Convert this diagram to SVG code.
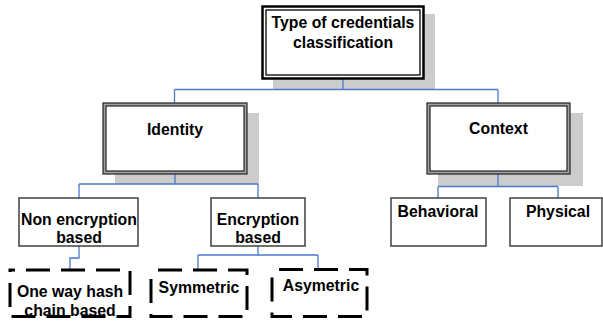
<svg xmlns="http://www.w3.org/2000/svg" width="603" height="324" viewBox="0 0 603 324">
  <style>
    text { font-family: "Liberation Sans", Arial, sans-serif; font-weight: bold; font-size: 15.8px; fill: #000; text-anchor: middle; }
    .shadow { fill: #cccccc; }
    .plain { fill: #fff; stroke: #333; stroke-width: 1.4; }
    .dashed { fill: #fff; stroke: #000; stroke-width: 3; stroke-dasharray: 24 11; stroke-dashoffset: 28; }
    .frame-out { fill: #a3a3a3; stroke: #222; stroke-width: 1.2; }
    .frame-in { fill: #fff; stroke: #222; stroke-width: 1.2; }
    .conn { fill: none; stroke: #4a7acb; stroke-width: 1.3; }
  </style>

  <!-- drop shadows behind the framed boxes -->
  <rect class="shadow" x="273" y="14" width="162" height="76"/>
  <rect class="shadow" x="115" y="113" width="144" height="71"/>
  <rect class="shadow" x="438" y="113" width="145" height="73"/>

  <!-- connectors -->
  <g id="connectors">
    <path class="conn" d="M343,79 V89.5 M174.5,89.5 H498 M174.5,89.5 V103 M498,89.5 V103"/>
    <path class="conn" d="M175,174 V184 M79,184 H258 M79,184 V198 M258,184 V198"/>
    <path class="conn" d="M498,174 V186.5 M438,186.5 H558 M438,186.5 V198 M558,186.5 V198"/>
    <path class="conn" d="M79,246 V258 H70 V270"/>
    <path class="conn" d="M258,246 V255 M198,255 H318 M198,255 V270 M318,255 V269"/>
  </g>

  <!-- root -->
  <g id="root">
    <rect x="262.5" y="6.5" width="161" height="72" fill="#fff" stroke="#000" stroke-width="2.5"/>
    <rect x="266" y="10" width="154" height="65" fill="none" stroke="#000" stroke-width="1.3"/>
    <text x="343" y="27.5">Type of credentials</text>
    <text x="343" y="47.5">classification</text>
  </g>

  <!-- second level -->
  <g id="identity">
    <rect class="frame-out" x="103" y="103" width="144" height="71"/>
    <rect class="frame-in" x="106" y="106" width="138" height="65"/>
    <text x="175" y="134.5">Identity</text>
  </g>
  <g id="context">
    <rect class="frame-out" x="427" y="103" width="143" height="71"/>
    <rect class="frame-in" x="430" y="106" width="137" height="65"/>
    <text x="498.5" y="134">Context</text>
  </g>

  <!-- third level -->
  <g id="non-encryption">
    <rect class="plain" x="19" y="198" width="119" height="48"/>
    <text x="79" y="225">Non encryption</text>
    <text x="79" y="243">based</text>
  </g>
  <g id="encryption">
    <rect class="plain" x="211" y="198" width="94" height="48"/>
    <text x="258" y="225">Encryption</text>
    <text x="258" y="243">based</text>
  </g>
  <g id="behavioral">
    <rect class="plain" x="391" y="198" width="95" height="48"/>
    <text x="438" y="217">Behavioral</text>
  </g>
  <g id="physical">
    <rect class="plain" x="510" y="198" width="92" height="48"/>
    <text x="558" y="217">Physical</text>
  </g>

  <!-- leaves -->
  <g id="hash-chain">
    <rect class="dashed" x="10" y="270" width="120" height="46.5" style="stroke-dashoffset: 19"/>
    <text x="70" y="297">One way hash</text>
    <text x="70" y="315.5">chain based</text>
  </g>
  <g id="symmetric">
    <rect class="dashed" x="151" y="270" width="96" height="46.5"/>
    <text x="199" y="293">Symmetric</text>
  </g>
  <g id="asymetric">
    <rect class="dashed" x="272" y="269.5" width="95" height="47"/>
    <text x="321" y="291">Asymetric</text>
  </g>
</svg>
